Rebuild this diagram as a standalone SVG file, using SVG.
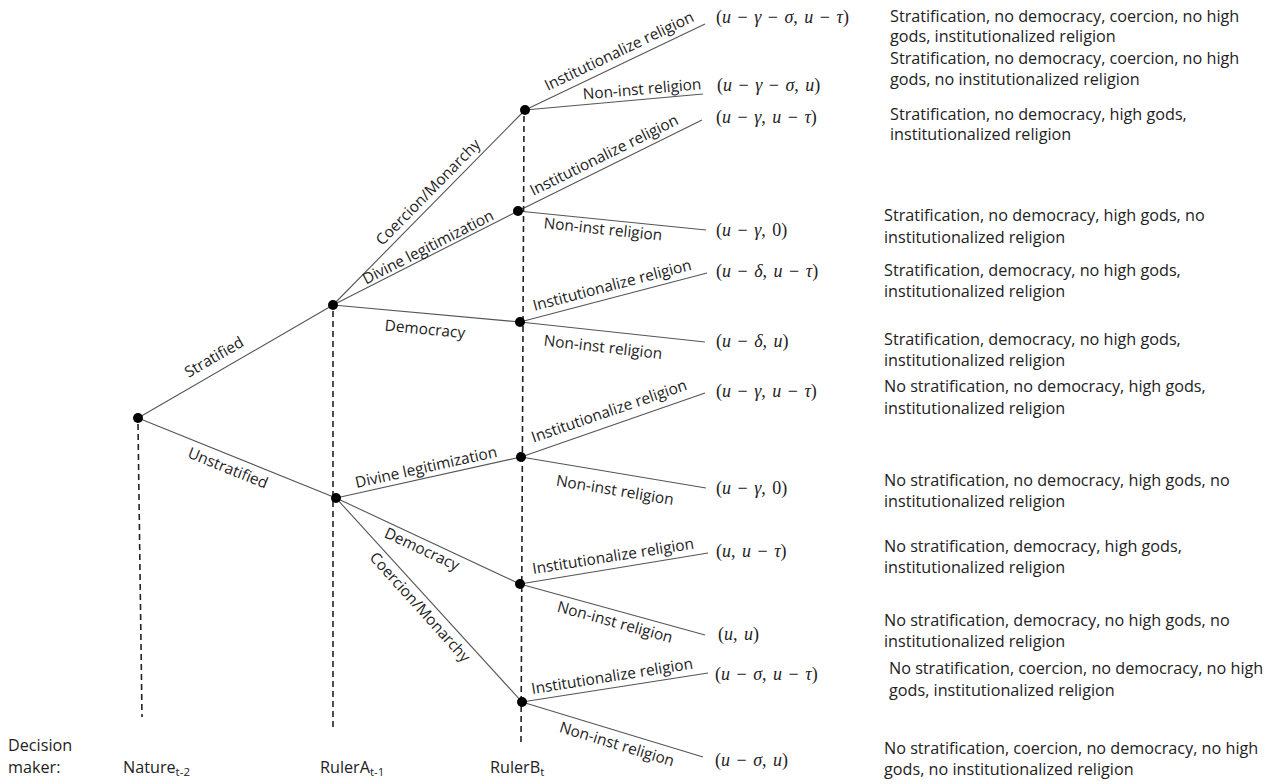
<svg xmlns="http://www.w3.org/2000/svg" width="1286" height="784" viewBox="0 0 1286 784">
<style>
.e{stroke:#555;stroke-width:1.1;fill:none}
.d{stroke:#222;stroke-width:1.6;stroke-dasharray:6 4;fill:none}
.n{fill:#000}
.l{font-family:"Open Sans","Noto Sans",sans-serif;font-size:15.4px;fill:#222;text-anchor:middle}
.t{font-family:"Open Sans","Noto Sans",sans-serif;font-size:16.2px;fill:#222}
.m{font-family:"Liberation Serif","DejaVu Serif",serif;font-size:18px;fill:#222;word-spacing:2px}
.i{font-style:italic}
.s{font-size:11.5px}
</style>
<rect width="1286" height="784" fill="#fff"/>
<g id="connectors">
<line class="e" x1="138" y1="418" x2="333" y2="305"/>
<line class="e" x1="138" y1="418" x2="336" y2="498"/>
<line class="e" x1="333" y1="305" x2="525" y2="110"/>
<line class="e" x1="333" y1="305" x2="518" y2="211"/>
<line class="e" x1="333" y1="305" x2="520" y2="322"/>
<line class="e" x1="336" y1="498" x2="521" y2="457"/>
<line class="e" x1="336" y1="498" x2="520" y2="584"/>
<line class="e" x1="336" y1="498" x2="522" y2="702"/>
<line class="e" x1="525" y1="110" x2="705" y2="24"/>
<line class="e" x1="525" y1="110" x2="703" y2="94"/>
<line class="e" x1="518" y1="211" x2="702" y2="120"/>
<line class="e" x1="518" y1="211" x2="706" y2="230"/>
<line class="e" x1="520" y1="322" x2="707" y2="273"/>
<line class="e" x1="520" y1="322" x2="705" y2="342"/>
<line class="e" x1="521" y1="457" x2="705" y2="393"/>
<line class="e" x1="521" y1="457" x2="706" y2="488"/>
<line class="e" x1="520" y1="584" x2="708" y2="553"/>
<line class="e" x1="520" y1="584" x2="705" y2="635"/>
<line class="e" x1="522" y1="702" x2="708" y2="673"/>
<line class="e" x1="522" y1="702" x2="703" y2="757"/>
<line class="d" x1="138" y1="424" x2="142" y2="717"/>
<line class="d" x1="333" y1="311" x2="333" y2="731"/>
<line class="d" x1="524" y1="116" x2="521" y2="744"/>
</g>
<g id="edge-labels">
<text class="l" transform="translate(214,357) rotate(-30)" dy="0.35em">Stratified</text>
<text class="l" transform="translate(228,468) rotate(22)" dy="0.35em">Unstratified</text>
<text class="l" transform="translate(428,192) rotate(-45.5)" dy="0.35em">Coercion/Monarchy</text>
<text class="l" transform="translate(428,247) rotate(-27)" dy="0.35em">Divine legitimization</text>
<text class="l" transform="translate(425,329) rotate(5.5)" dy="0.35em">Democracy</text>
<text class="l" transform="translate(426,467) rotate(-12.5)" dy="0.35em">Divine legitimization</text>
<text class="l" transform="translate(422,549) rotate(25)" dy="0.35em">Democracy</text>
<text class="l" transform="translate(420,607) rotate(48)" dy="0.35em">Coercion/Monarchy</text>
<text class="l" transform="translate(619,51) rotate(-25.5)" dy="0.35em">Institutionalize religion</text>
<text class="l" transform="translate(642,89) rotate(-5)" dy="0.35em">Non-inst religion</text>
<text class="l" transform="translate(604,155) rotate(-26.3)" dy="0.35em">Institutionalize religion</text>
<text class="l" transform="translate(603,229) rotate(6)" dy="0.35em">Non-inst religion</text>
<text class="l" transform="translate(612,285) rotate(-14.7)" dy="0.35em">Institutionalize religion</text>
<text class="l" transform="translate(603,347) rotate(6.5)" dy="0.35em">Non-inst religion</text>
<text class="l" transform="translate(609,411) rotate(-19)" dy="0.35em">Institutionalize religion</text>
<text class="l" transform="translate(615,490) rotate(9.5)" dy="0.35em">Non-inst religion</text>
<text class="l" transform="translate(613,556) rotate(-9)" dy="0.35em">Institutionalize religion</text>
<text class="l" transform="translate(615,622) rotate(15.5)" dy="0.35em">Non-inst religion</text>
<text class="l" transform="translate(612,676) rotate(-9)" dy="0.35em">Institutionalize religion</text>
<text class="l" transform="translate(617,744) rotate(17)" dy="0.35em">Non-inst religion</text>
</g>
<g id="root"><circle class="n" cx="138" cy="418" r="5"/></g>
<g id="a-strat"><circle class="n" cx="333" cy="305" r="5"/></g>
<g id="a-unstrat"><circle class="n" cx="336" cy="498" r="5"/></g>
<g id="b1"><circle class="n" cx="525" cy="110" r="5"/></g>
<g id="b2"><circle class="n" cx="518" cy="211" r="5"/></g>
<g id="b3"><circle class="n" cx="520" cy="322" r="5"/></g>
<g id="b4"><circle class="n" cx="521" cy="457" r="5"/></g>
<g id="b5"><circle class="n" cx="520" cy="584" r="5"/></g>
<g id="b6"><circle class="n" cx="522" cy="702" r="5"/></g>
<g id="payoffs">
<text class="m" x="716" y="23">(<tspan class="i">u</tspan> − <tspan class="i">γ</tspan> − <tspan class="i">σ</tspan>, <tspan class="i">u</tspan> − <tspan class="i">τ</tspan>)</text>
<text class="m" x="717" y="91">(<tspan class="i">u</tspan> − <tspan class="i">γ</tspan> − <tspan class="i">σ</tspan>, <tspan class="i">u</tspan>)</text>
<text class="m" x="716" y="123">(<tspan class="i">u</tspan> − <tspan class="i">γ</tspan>, <tspan class="i">u</tspan> − <tspan class="i">τ</tspan>)</text>
<text class="m" x="716" y="236">(<tspan class="i">u</tspan> − <tspan class="i">γ</tspan>, 0)</text>
<text class="m" x="716" y="277">(<tspan class="i">u</tspan> − <tspan class="i">δ</tspan>, <tspan class="i">u</tspan> − <tspan class="i">τ</tspan>)</text>
<text class="m" x="716" y="347">(<tspan class="i">u</tspan> − <tspan class="i">δ</tspan>, <tspan class="i">u</tspan>)</text>
<text class="m" x="716" y="397">(<tspan class="i">u</tspan> − <tspan class="i">γ</tspan>, <tspan class="i">u</tspan> − <tspan class="i">τ</tspan>)</text>
<text class="m" x="716" y="494">(<tspan class="i">u</tspan> − <tspan class="i">γ</tspan>, 0)</text>
<text class="m" x="716" y="557">(<tspan class="i">u</tspan>, <tspan class="i">u</tspan> − <tspan class="i">τ</tspan>)</text>
<text class="m" x="718" y="640">(<tspan class="i">u</tspan>, <tspan class="i">u</tspan>)</text>
<text class="m" x="715" y="680">(<tspan class="i">u</tspan> − <tspan class="i">σ</tspan>, <tspan class="i">u</tspan> − <tspan class="i">τ</tspan>)</text>
<text class="m" x="715" y="766">(<tspan class="i">u</tspan> − <tspan class="i">σ</tspan>, <tspan class="i">u</tspan>)</text>
</g>
<g id="outcomes">
<text class="t" x="890" y="22">Stratification, no democracy, coercion, no high<tspan x="890" dy="20">gods, institutionalized religion</tspan></text>
<text class="t" x="890" y="64">Stratification, no democracy, coercion, no high<tspan x="890" dy="21">gods, no institutionalized religion</tspan></text>
<text class="t" x="890" y="120">Stratification, no democracy, high gods,<tspan x="890" dy="20">institutionalized religion</tspan></text>
<text class="t" x="884" y="221">Stratification, no democracy, high gods, no<tspan x="884" dy="22">institutionalized religion</tspan></text>
<text class="t" x="884" y="276">Stratification, democracy, no high gods,<tspan x="884" dy="21">institutionalized religion</tspan></text>
<text class="t" x="884" y="345">Stratification, democracy, no high gods,<tspan x="884" dy="21">institutionalized religion</tspan></text>
<text class="t" x="884" y="392">No stratification, no democracy, high gods,<tspan x="884" dy="22">institutionalized religion</tspan></text>
<text class="t" x="884" y="486">No stratification, no democracy, high gods, no<tspan x="884" dy="21">institutionalized religion</tspan></text>
<text class="t" x="884" y="552">No stratification, democracy, high gods,<tspan x="884" dy="21">institutionalized religion</tspan></text>
<text class="t" x="884" y="626">No stratification, democracy, no high gods, no<tspan x="884" dy="21">institutionalized religion</tspan></text>
<text class="t" x="889" y="674">No stratification, coercion, no democracy, no high<tspan x="889" dy="22">gods, institutionalized religion</tspan></text>
<text class="t" x="884" y="754">No stratification, coercion, no democracy, no high<tspan x="884" dy="21">gods, no institutionalized religion</tspan></text>
</g>
<g id="decision-makers">
<text class="t" x="8" y="751">Decision<tspan x="8" dy="22">maker:</tspan></text>
<text class="t" x="123" y="773">Nature<tspan class="s" dy="3">t-2</tspan></text>
<text class="t" x="320" y="773">RulerA<tspan class="s" dy="3">t-1</tspan></text>
<text class="t" x="490" y="773">RulerB<tspan class="s" dy="3">t</tspan></text>
</g>
</svg>
